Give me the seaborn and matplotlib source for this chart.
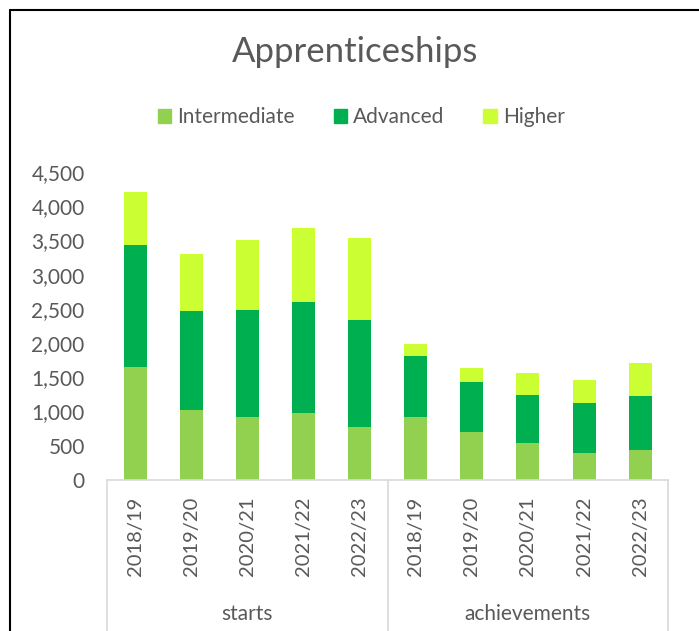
import pandas as pd
import numpy as np
import matplotlib.pyplot as plt
import seaborn as sns
from matplotlib.lines import Line2D
from matplotlib.ticker import FuncFormatter

sns.set_theme(style="white")
plt.rcParams["font.family"] = ["Lato", "DejaVu Sans"]

# values
groups = ["starts"] * 5 + ["achievements"] * 5
years = ["2018/19", "2019/20", "2020/21", "2021/22", "2022/23"] * 2
intermediate = [1656, 1023, 925, 974, 769, 925, 696, 545, 399, 443]
advanced = [1777, 1446, 1563, 1622, 1573, 887, 741, 692, 721, 779]
higher = [779, 828, 1018, 1085, 1189, 175, 204, 321, 336, 483]

colors = {"Intermediate": "#92D050", "Advanced": "#00B050", "Higher": "#CCFF33"}
text_col = "#595959"
line_col = "#D9D9D9"

df = pd.DataFrame({"group": groups, "year": years,
                   "Intermediate": intermediate, "Advanced": advanced, "Higher": higher})
df["key"] = df["group"] + " " + df["year"]
# cumulative heights, drawn tallest first so the stack shows through
df["c_int"] = df["Intermediate"]
df["c_adv"] = df["c_int"] + df["Advanced"]
df["c_hi"] = df["c_adv"] + df["Higher"]

fig = plt.figure(figsize=(6.99, 6.31), dpi=100)
ax = fig.add_axes([0.153, 0.2393, 0.803, 0.4881])

for col, name in [("c_hi", "Higher"), ("c_adv", "Advanced"), ("c_int", "Intermediate")]:
    sns.barplot(data=df, x="key", y=col, color=colors[name], width=0.41,
                saturation=1, ax=ax, errorbar=None, label=name, linewidth=0)

ax.set_xlim(-0.5, 9.5)
ax.set_ylim(0, 4500)
ax.set_yticks(np.arange(0, 4501, 500))
ax.yaxis.set_major_formatter(FuncFormatter(lambda v, p: f"{v:,.0f}"))
ax.set_xticks(range(len(df)))
ax.set_xticklabels(df["year"], rotation=90, va="top", ha="center")
ax.tick_params(axis="x", length=0, pad=12, labelsize=14.5, colors=text_col)
ax.tick_params(axis="y", length=0, pad=16, labelsize=15, colors=text_col)
ax.set_xlabel("")
ax.set_ylabel("")

for s in ["top", "right", "left"]:
    ax.spines[s].set_visible(False)
ax.spines["bottom"].set_color(line_col)
ax.spines["bottom"].set_linewidth(1.2)

# category group box lines
trans = ax.get_xaxis_transform()
for xv in [-0.5, 4.5, 9.5]:
    ax.plot([xv, xv], [0, -0.5], transform=trans, color=line_col, lw=1.2, clip_on=False)
for label, xc in [("starts", 2), ("achievements", 7)]:
    ax.text(xc, -0.435, label, transform=trans, ha="center", va="center",
            fontsize=15, color=text_col)

# legend in Excel order
handles = [plt.Rectangle((0, 0), 1, 1, color=colors[n]) for n in ["Intermediate", "Advanced", "Higher"]]
fig.legend(handles, ["Intermediate", "Advanced", "Higher"], loc="center",
           bbox_to_anchor=(0.517, 0.814), ncol=3, frameon=False, fontsize=15,
           handlelength=0.65, handleheight=0.65, handletextpad=0.3, columnspacing=1.85,
           labelcolor=text_col)
if ax.get_legend() is not None:
    ax.get_legend().remove()

fig.text(0.508, 0.918, "Apprenticeships", ha="center", va="center", fontsize=25, color=text_col)

# black frame on left and top edges
fig.add_artist(Line2D([0.0143, 0.0143], [0, 0.984], transform=fig.transFigure, color="black", lw=1.5))
fig.add_artist(Line2D([0.0143, 1.0], [0.984, 0.984], transform=fig.transFigure, color="black", lw=1.5))

fig.savefig("out.png", dpi=100)
